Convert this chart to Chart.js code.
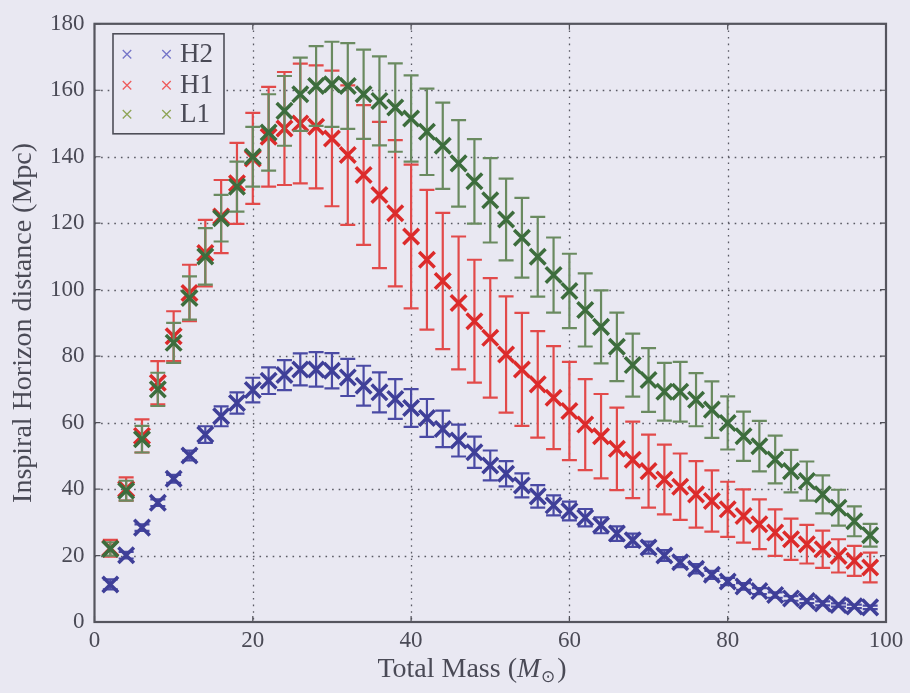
<!DOCTYPE html>
<html>
<head>
<meta charset="utf-8">
<script src="https://cdn.jsdelivr.net/npm/chart.js@4/dist/chart.umd.min.js"></script>
<style>
  html, body { margin: 0; padding: 0; background: #e9e8f2; }
  #wrap { width: 910px; height: 693px; position: relative; }
</style>
</head>
<body>
<div id="wrap"><canvas id="c" width="910" height="693"></canvas></div>
<script>
// ---- Data ----
const masses = [2,4,6,8,10,12,14,16,18,20,22,24,26,28,30,32,34,36,38,40,42,44,46,48,50,52,54,56,58,60,62,64,66,68,70,72,74,76,78,80,82,84,86,88,90,92,94,96,98];

const h2Dist = [11.3,20.1,28.4,35.9,43.1,50.1,56.4,61.9,65.9,69.8,72.6,74.3,76.0,76.0,75.6,73.6,71.1,69.1,67.1,64.4,61.4,58.1,54.6,51.1,47.1,44.6,41.1,37.8,35.1,33.4,31.4,29.1,26.6,24.6,22.4,20.0,18.0,16.0,14.2,12.2,10.7,9.3,8.1,7.1,6.3,5.6,5.1,4.7,4.4];
const h2Err  = [1.5,1.0,1.0,1.0,1.2,1.5,2.5,3.0,3.2,3.7,4.0,4.5,4.8,5.2,5.3,5.6,6.0,6.0,6.0,5.7,5.7,5.5,4.8,4.7,4.5,3.8,3.6,3.4,3.0,2.8,2.6,2.4,2.2,2.0,1.8,1.6,1.5,1.4,1.2,1.1,1.0,0.9,0.8,0.7,0.6,0.6,0.5,0.5,0.5];

const h1Dist = [22.2,40.0,56.0,72.0,86.0,99.0,111.0,122.0,132.0,139.5,146.0,148.5,150.0,149.0,145.5,140.5,134.5,128.5,123.0,116.0,109.0,102.6,96.0,90.5,85.5,80.5,76.0,71.5,67.5,63.5,59.4,55.9,52.1,48.8,45.4,42.9,40.7,38.4,36.4,33.9,31.9,29.4,26.9,24.9,23.4,21.9,19.9,18.4,16.4];
const h1Err  = [2.5,3.5,5.0,6.5,7.5,8.5,10.0,11.0,12.2,13.7,15.0,17.0,18.0,18.5,20.4,21.0,21.0,22.0,22.0,21.6,21.0,20.5,20.0,18.5,18.0,17.5,17.0,16.0,15.5,14.8,13.7,12.7,12.4,11.5,11.0,10.5,10.0,10.0,9.2,8.3,8.0,7.5,7.0,6.2,5.8,5.6,5.0,4.5,4.5];

const l1Dist = [22.0,39.5,55.0,70.0,84.0,97.5,110.0,121.5,131.0,140.0,147.3,153.8,158.8,161.3,161.8,161.3,158.8,156.8,154.8,151.5,147.5,143.3,138.0,132.6,126.9,121.1,115.6,109.9,104.4,99.6,93.9,88.8,82.8,77.3,72.8,69.3,69.3,66.9,63.9,59.9,55.9,52.9,48.9,45.4,42.4,38.4,34.4,30.3,26.1];
const l1Err  = [2.0,3.0,4.0,5.0,6.0,6.5,8.5,7.0,7.5,9.0,11.5,10.5,11.0,12.0,12.8,12.9,13.4,13.4,13.3,13.0,13.0,13.0,13.0,12.7,12.7,12.3,12.0,12.0,11.3,11.2,11.0,11.0,10.3,9.5,9.6,8.7,9.0,8.0,8.5,8.0,7.4,7.6,7.2,6.4,5.9,5.7,5.4,4.5,3.4];

const seriesNames = ['H2', 'H1', 'L1'];
const xTickValues = [0, 20, 40, 60, 80, 100];
const yTickValues = [0, 20, 40, 60, 80, 100, 120, 140, 160, 180];
const xTitle = ['Total Mass (', 'M', '\u2299', ')'];
const yTitle = 'Inspiral Horizon distance (Mpc)';

// ---- Styles ----
const BG = '#e9e8f2';
const TEXT = '#4a4a56';
const FONT = "'Liberation Serif', 'Times New Roman', serif";
const markerColors = ['#3f3f98', '#dc2b2b', '#3d6d3d'];
const errColors    = ['#4a4aa4', '#e24a4a', '#6a8a60'];
const legendColors = ['#7474c8', '#ee5a5a', '#8ea454'];

function pts(ys) { return masses.map((m, i) => ({ x: m, y: ys[i] })); }
const errs = [h2Err, h1Err, l1Err];

const datasets = [
  { label: seriesNames[0], data: pts(h2Dist), order: 3 },
  { label: seriesNames[1], data: pts(h1Dist), order: 2 },
  { label: seriesNames[2], data: pts(l1Dist), order: 1 },
].map((d, i) => Object.assign(d, {
  showLine: false,
  pointStyle: 'crossRot',
  pointRadius: 11,
  pointHoverRadius: 11,
  pointBorderWidth: 3.5,
  pointHoverBorderWidth: 3.5,
  borderColor: markerColors[i],
  backgroundColor: markerColors[i],
  errIndex: i
}));

const bgPlugin = {
  id: 'bg',
  beforeDraw(chart) {
    const ctx = chart.ctx;
    ctx.save();
    ctx.fillStyle = BG;
    ctx.fillRect(0, 0, chart.width, chart.height);
    ctx.restore();
  }
};

const gridPlugin = {
  id: 'mplgrid',
  beforeDatasetsDraw(chart) {
    const { ctx, chartArea: a, scales: { x, y } } = chart;
    ctx.save();
    ctx.strokeStyle = '#5a5a64';
    ctx.lineWidth = 1.3;
    ctx.setLineDash([1.6, 5]);
    xTickValues.forEach(v => {
      if (v === x.min || v === x.max) return;
      const px = Math.round(x.getPixelForValue(v)) + 0.5;
      ctx.beginPath(); ctx.moveTo(px, a.top); ctx.lineTo(px, a.bottom); ctx.stroke();
    });
    yTickValues.forEach(v => {
      if (v === y.min || v === y.max) return;
      const py = Math.round(y.getPixelForValue(v)) + 0.5;
      ctx.beginPath(); ctx.moveTo(a.left, py); ctx.lineTo(a.right, py); ctx.stroke();
    });
    ctx.restore();
  },
  afterDatasetsDraw(chart) {
    const { ctx, chartArea: a, scales: { x, y } } = chart;
    ctx.save();
    ctx.strokeStyle = '#505058';
    ctx.lineWidth = 1.2;
    const tl = 6;
    xTickValues.forEach(v => {
      const px = x.getPixelForValue(v);
      ctx.beginPath();
      ctx.moveTo(px, a.bottom); ctx.lineTo(px, a.bottom - tl);
      ctx.moveTo(px, a.top); ctx.lineTo(px, a.top + tl);
      ctx.stroke();
    });
    yTickValues.forEach(v => {
      const py = y.getPixelForValue(v);
      ctx.beginPath();
      ctx.moveTo(a.left, py); ctx.lineTo(a.left + tl, py);
      ctx.moveTo(a.right, py); ctx.lineTo(a.right - tl, py);
      ctx.stroke();
    });
    ctx.strokeStyle = '#55555e';
    ctx.lineWidth = 2.2;
    ctx.strokeRect(a.left, a.top, a.right - a.left, a.bottom - a.top);
    ctx.restore();
  }
};

const errorBarPlugin = {
  id: 'errbars',
  beforeDatasetDraw(chart, args) {
    const ds = chart.data.datasets[args.index];
    const err = errs[ds.errIndex];
    const y = chart.scales.y;
    const ctx = chart.ctx;
    const cap = 7.5;
    ctx.save();
    ctx.strokeStyle = errColors[ds.errIndex];
    ctx.lineWidth = 2.2;
    args.meta.data.forEach((pt, i) => {
      const v = ds.data[i].y;
      const top = y.getPixelForValue(v + err[i]);
      const bot = y.getPixelForValue(v - err[i]);
      ctx.beginPath();
      ctx.moveTo(pt.x, top); ctx.lineTo(pt.x, bot);
      ctx.moveTo(pt.x - cap, top); ctx.lineTo(pt.x + cap, top);
      ctx.moveTo(pt.x - cap, bot); ctx.lineTo(pt.x + cap, bot);
      ctx.stroke();
    });
    ctx.restore();
  }
};

function drawCross(ctx, cx, cy, r) {
  const d = r * Math.SQRT1_2;
  ctx.beginPath();
  ctx.moveTo(cx - d, cy - d); ctx.lineTo(cx + d, cy + d);
  ctx.moveTo(cx - d, cy + d); ctx.lineTo(cx + d, cy - d);
  ctx.stroke();
}

const legendPlugin = {
  id: 'mpllegend',
  afterDraw(chart) {
    const { ctx, chartArea: a } = chart;
    const left = a.left + 18.5, top = a.top + 10, w = 111, h = 100;
    ctx.save();
    ctx.fillStyle = BG;
    ctx.fillRect(left, top, w, h);
    ctx.strokeStyle = '#4e4e58';
    ctx.lineWidth = 1.6;
    ctx.strokeRect(left, top, w, h);
    const rows = [top + 20.5, top + 51.5, top + 80.5];
    chart.data.datasets.forEach((ds, i) => {
      const yy = rows[i];
      ctx.strokeStyle = legendColors[i];
      ctx.lineWidth = 1.3;
      drawCross(ctx, left + 14, yy, 6);
      drawCross(ctx, left + 53.5, yy, 6);
      ctx.fillStyle = TEXT;
      ctx.font = '27px ' + FONT;
      ctx.textBaseline = 'middle';
      ctx.textAlign = 'left';
      ctx.fillText(ds.label, left + 67, yy + 1);
    });
    ctx.restore();
  }
};

const xTitlePlugin = {
  id: 'xtitle',
  afterDraw(chart) {
    const { ctx } = chart;
    ctx.save();
    ctx.fillStyle = TEXT;
    ctx.textBaseline = 'alphabetic';
    ctx.textAlign = 'left';
    const base = 677;
    const fN = '28px ' + FONT, fI = 'italic 28px ' + FONT, fS = '17px ' + FONT;
    ctx.font = fN; const w0 = ctx.measureText(xTitle[0]).width;
    ctx.font = fI; const w1 = ctx.measureText(xTitle[1]).width;
    ctx.font = fS; const w2 = ctx.measureText(xTitle[2]).width;
    ctx.font = fN; const w3 = ctx.measureText(xTitle[3]).width;
    const total = w0 + w1 + 1 + w2 + 2 + w3;
    let xx = 472 - total / 2;
    ctx.font = fN; ctx.fillText(xTitle[0], xx, base); xx += w0;
    ctx.font = fI; ctx.fillText(xTitle[1], xx, base); xx += w1 + 1;
    ctx.font = fS; ctx.fillText(xTitle[2], xx, base + 5); xx += w2 + 2;
    ctx.font = fN; ctx.fillText(xTitle[3], xx, base);
    ctx.restore();
  }
};

new Chart(document.getElementById('c'), {
  type: 'scatter',
  data: { datasets },
  options: {
    responsive: false,
    animation: false,
    devicePixelRatio: 1,
    layout: { padding: { left: 0, right: 24, top: 22, bottom: 0 } },
    plugins: {
      legend: { display: false },
      tooltip: { enabled: false },
      title: { display: false }
    },
    scales: {
      x: {
        type: 'linear',
        min: 0, max: 100,
        afterBuildTicks(scale) { scale.ticks = xTickValues.map(v => ({ value: v })); },
        afterFit(scale) { scale.height = 71; },
        grid: { display: false, drawTicks: false },
        border: { display: false },
        ticks: {
          color: TEXT,
          font: { family: FONT, size: 23 },
          padding: 5,
          maxRotation: 0,
          autoSkip: false
        }
      },
      y: {
        type: 'linear',
        min: 0, max: 180,
        afterBuildTicks(scale) { scale.ticks = yTickValues.map(v => ({ value: v })); },
        afterFit(scale) { scale.width = 94.5; },
        grid: { display: false, drawTicks: false },
        border: { display: false },
        ticks: {
          color: TEXT,
          font: { family: FONT, size: 23 },
          padding: 10,
          autoSkip: false
        },
        title: {
          display: true,
          text: yTitle,
          color: TEXT,
          font: { family: FONT, size: 28 },
          padding: { top: 7, bottom: 0 }
        }
      }
    }
  },
  plugins: [bgPlugin, gridPlugin, errorBarPlugin, legendPlugin, xTitlePlugin]
});
</script>
</body>
</html>
